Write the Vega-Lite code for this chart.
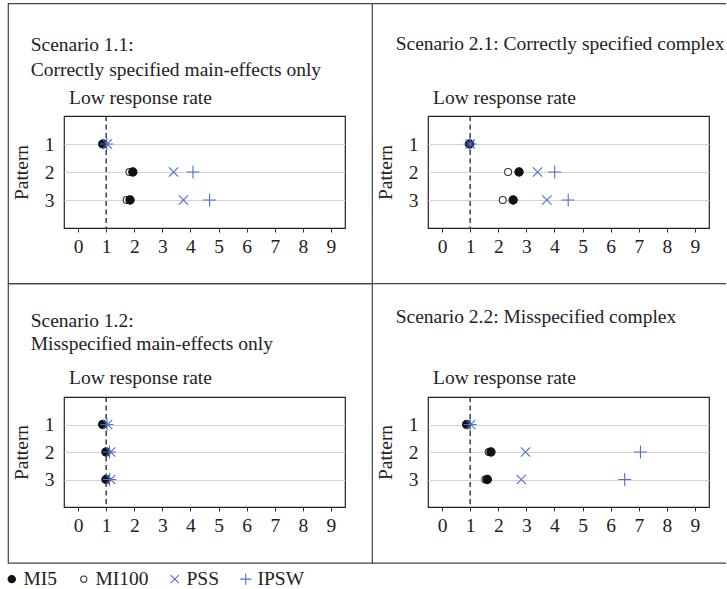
{
  "$schema": "https://vega.github.io/schema/vega-lite/v6.json",
  "autosize": {"type": "pad"},
  "padding": {"left": 2, "top": 2, "right": 0, "bottom": 0},
  "background": "white",
  "config": {
    "font": "Liberation Serif",
    "view": {"stroke": "#222", "strokeWidth": 1.2},
    "axis": {
      "labelFont": "Liberation Serif", "labelFontSize": 19.5, "labelColor": "#222",
      "titleFont": "Liberation Serif", "titleFontSize": 19.5, "titleFontWeight": "normal", "titleColor": "#222",
      "domain": false, "grid": false, "labelFlush": false, "labelOverlap": false
    },
    "legend": {
      "labelFont": "Liberation Serif", "labelFontSize": 19.5, "labelColor": "#222",
      "symbolSize": 130, "symbolStrokeWidth": 1.1, "labelOffset": 2, "columnPadding": 16
    }
  },
  "datasets": {
    "pts": [
      {"panel": "1.1", "pattern": 1, "method": "MI100", "value": 0.86},
      {"panel": "1.1", "pattern": 1, "method": "MI5", "value": 0.89},
      {"panel": "1.1", "pattern": 1, "method": "PSS", "value": 1.04},
      {"panel": "1.1", "pattern": 1, "method": "IPSW", "value": 1.02},
      {"panel": "1.1", "pattern": 2, "method": "MI100", "value": 1.83},
      {"panel": "1.1", "pattern": 2, "method": "MI5", "value": 1.95},
      {"panel": "1.1", "pattern": 2, "method": "PSS", "value": 3.40},
      {"panel": "1.1", "pattern": 2, "method": "IPSW", "value": 4.09},
      {"panel": "1.1", "pattern": 3, "method": "MI100", "value": 1.73},
      {"panel": "1.1", "pattern": 3, "method": "MI5", "value": 1.85},
      {"panel": "1.1", "pattern": 3, "method": "PSS", "value": 3.75},
      {"panel": "1.1", "pattern": 3, "method": "IPSW", "value": 4.68},
      {"panel": "2.1", "pattern": 1, "method": "MI100", "value": 0.97},
      {"panel": "2.1", "pattern": 1, "method": "MI5", "value": 0.98},
      {"panel": "2.1", "pattern": 1, "method": "PSS", "value": 1.0},
      {"panel": "2.1", "pattern": 1, "method": "IPSW", "value": 1.0},
      {"panel": "2.1", "pattern": 2, "method": "MI100", "value": 2.35},
      {"panel": "2.1", "pattern": 2, "method": "MI5", "value": 2.74},
      {"panel": "2.1", "pattern": 2, "method": "PSS", "value": 3.40},
      {"panel": "2.1", "pattern": 2, "method": "IPSW", "value": 4.01},
      {"panel": "2.1", "pattern": 3, "method": "MI100", "value": 2.16},
      {"panel": "2.1", "pattern": 3, "method": "MI5", "value": 2.53},
      {"panel": "2.1", "pattern": 3, "method": "PSS", "value": 3.73},
      {"panel": "2.1", "pattern": 3, "method": "IPSW", "value": 4.49},
      {"panel": "1.2", "pattern": 1, "method": "MI100", "value": 0.87},
      {"panel": "1.2", "pattern": 1, "method": "MI5", "value": 0.88},
      {"panel": "1.2", "pattern": 1, "method": "PSS", "value": 1.05},
      {"panel": "1.2", "pattern": 1, "method": "IPSW", "value": 1.03},
      {"panel": "1.2", "pattern": 2, "method": "MI100", "value": 0.98},
      {"panel": "1.2", "pattern": 2, "method": "MI5", "value": 1.0},
      {"panel": "1.2", "pattern": 2, "method": "PSS", "value": 1.16},
      {"panel": "1.2", "pattern": 2, "method": "IPSW", "value": 1.12},
      {"panel": "1.2", "pattern": 3, "method": "MI100", "value": 0.98},
      {"panel": "1.2", "pattern": 3, "method": "MI5", "value": 1.0},
      {"panel": "1.2", "pattern": 3, "method": "PSS", "value": 1.16},
      {"panel": "1.2", "pattern": 3, "method": "IPSW", "value": 1.12},
      {"panel": "2.2", "pattern": 1, "method": "MI100", "value": 0.86},
      {"panel": "2.2", "pattern": 1, "method": "MI5", "value": 0.88},
      {"panel": "2.2", "pattern": 1, "method": "PSS", "value": 1.02},
      {"panel": "2.2", "pattern": 1, "method": "IPSW", "value": 1.0},
      {"panel": "2.2", "pattern": 2, "method": "MI100", "value": 1.66},
      {"panel": "2.2", "pattern": 2, "method": "MI5", "value": 1.74},
      {"panel": "2.2", "pattern": 2, "method": "PSS", "value": 2.97},
      {"panel": "2.2", "pattern": 2, "method": "IPSW", "value": 7.06},
      {"panel": "2.2", "pattern": 3, "method": "MI100", "value": 1.54},
      {"panel": "2.2", "pattern": 3, "method": "MI5", "value": 1.61},
      {"panel": "2.2", "pattern": 3, "method": "PSS", "value": 2.82},
      {"panel": "2.2", "pattern": 3, "method": "IPSW", "value": 6.50}
    ]
  },
  "columns": 2,
  "spacing": {"row": 169, "column": 83},
  "bounds": "flush",
  "resolve": {"scale": {"shape": "shared", "stroke": "shared", "fill": "shared"}},
  "concat": [
    {
      "width": 281, "height": 112,
      "layer": [
        {"data": {"values": [{}]}, "mark": {"type": "rect", "filled": false, "stroke": "#444", "strokeWidth": 1.2, "clip": false},
         "encoding": {"x": {"datum": -2.482, "axis": null}, "x2": {"datum": 10.472}, "y": {"datum": -4.011, "axis": null}, "y2": {"datum": 5.989}}},
        {"data": {"values": [{}]}, "mark": {"type": "text", "text": ["Scenario 1.1:", "Correctly specified main-effects only"], "align": "left", "baseline": "alphabetic", "font": "Liberation Serif", "fontSize": 19.5, "lineHeight": 24.3, "color": "#222", "clip": false},
         "encoding": {"x": {"datum": -1.685, "axis": null}, "y": {"datum": -2.307, "axis": null}}},
        {"data": {"values": [{}]}, "mark": {"type": "rule", "strokeDash": [5, 3.5], "color": "#222", "strokeWidth": 1.3},
         "encoding": {"x": {"datum": 1, "axis": {"orient": "top", "labels": false, "ticks": false, "domain": false, "grid": false, "title": "Low response rate", "titleAnchor": "start", "titleAlign": "left", "titleX": 4.5, "titleY": -12.3, "titleBaseline": "alphabetic"}}}},
        {"data": {"name": "pts"}, "transform": [{"filter": "datum.panel === '1.1'"}],
         "mark": {"type": "point", "size": 169, "strokeWidth": 1.1, "opacity": 1},
         "encoding": {
           "x": {"field": "value", "type": "quantitative", "scale": {"domain": [-0.5, 9.5], "nice": false, "zero": false},
                 "axis": {"values": [0,1,2,3,4,5,6,7,8,9], "ticks": true, "tickSize": 4, "tickColor": "#333", "labelPadding": 5, "title": null}},
           "y": {"field": "pattern", "type": "quantitative", "scale": {"domain": [0, 4], "reverse": true, "nice": false, "zero": false},
                 "axis": {"values": [1, 2, 3], "format": "d", "ticks": false, "grid": true, "gridColor": "#d2d2d2", "labelPadding": 10, "title": "Pattern", "titlePadding": 13}},
           "shape": {"field": "method", "type": "nominal", "scale": {"domain": ["MI5", "MI100", "PSS", "IPSW"], "range": ["M-0.64,0A0.64,0.64,0,1,0,0.64,0A0.64,0.64,0,1,0,-0.64,0Z", "M-0.54,0A0.54,0.54,0,1,0,0.54,0A0.54,0.54,0,1,0,-0.54,0Z", "M-0.72,-0.72L0.72,0.72M-0.72,0.72L0.72,-0.72", "M-1,0L1,0M0,-1L0,1"]},
                     "legend": {"title": null, "orient": "none", "legendX": -62, "legendY": 453, "direction": "horizontal", "columns": 4}},
           "stroke": {"field": "method", "type": "nominal", "scale": {"domain": ["MI5", "MI100", "PSS", "IPSW"], "range": ["#111", "#333", "#4f6fcf", "#4f6fcf"]},
                      "legend": {"title": null, "orient": "none", "legendX": -62, "legendY": 453, "direction": "horizontal", "columns": 4}},
           "fill": {"field": "method", "type": "nominal", "scale": {"domain": ["MI5", "MI100", "PSS", "IPSW"], "range": ["#111", "#fff", "transparent", "transparent"]},
                    "legend": {"title": null, "orient": "none", "legendX": -62, "legendY": 453, "direction": "horizontal", "columns": 4}}
         }}
      ],
      "resolve": {"axis": {"x": "independent", "y": "independent"}}
    },
    {
      "width": 281, "height": 112,
      "layer": [
        {"data": {"values": [{}]}, "mark": {"type": "rule", "stroke": "#444", "strokeWidth": 1.2, "clip": false},
         "encoding": {"x": {"datum": -2.482, "axis": null}, "x2": {"datum": 10.105}, "y": {"datum": -4.011, "axis": null}}},
        {"data": {"values": [{}]}, "mark": {"type": "rule", "stroke": "#444", "strokeWidth": 1.2, "clip": false},
         "encoding": {"x": {"datum": -2.482, "axis": null}, "x2": {"datum": 10.105}, "y": {"datum": 5.989, "axis": null}}},
        {"data": {"values": [{}]}, "mark": {"type": "text", "text": ["Scenario 2.1: Correctly specified complex"], "align": "left", "baseline": "alphabetic", "font": "Liberation Serif", "fontSize": 19.5, "color": "#222", "clip": false},
         "encoding": {"x": {"datum": -1.649, "axis": null}, "y": {"datum": -2.368, "axis": null}}},
        {"data": {"values": [{}]}, "mark": {"type": "rule", "strokeDash": [5, 3.5], "color": "#222", "strokeWidth": 1.3},
         "encoding": {"x": {"datum": 1, "axis": {"orient": "top", "labels": false, "ticks": false, "domain": false, "grid": false, "title": "Low response rate", "titleAnchor": "start", "titleAlign": "left", "titleX": 4.5, "titleY": -12.3, "titleBaseline": "alphabetic"}}}},
        {"data": {"name": "pts"}, "transform": [{"filter": "datum.panel === '2.1'"}],
         "mark": {"type": "point", "size": 169, "strokeWidth": 1.1, "opacity": 1},
         "encoding": {
           "x": {"field": "value", "type": "quantitative", "scale": {"domain": [-0.5, 9.5], "nice": false, "zero": false},
                 "axis": {"values": [0,1,2,3,4,5,6,7,8,9], "ticks": true, "tickSize": 4, "tickColor": "#333", "labelPadding": 5, "title": null}},
           "y": {"field": "pattern", "type": "quantitative", "scale": {"domain": [0, 4], "reverse": true, "nice": false, "zero": false},
                 "axis": {"values": [1, 2, 3], "format": "d", "ticks": false, "grid": true, "gridColor": "#d2d2d2", "labelPadding": 10, "title": "Pattern", "titlePadding": 13}},
           "shape": {"field": "method", "type": "nominal", "scale": {"domain": ["MI5", "MI100", "PSS", "IPSW"], "range": ["M-0.64,0A0.64,0.64,0,1,0,0.64,0A0.64,0.64,0,1,0,-0.64,0Z", "M-0.54,0A0.54,0.54,0,1,0,0.54,0A0.54,0.54,0,1,0,-0.54,0Z", "M-0.72,-0.72L0.72,0.72M-0.72,0.72L0.72,-0.72", "M-1,0L1,0M0,-1L0,1"]},
                     "legend": {"title": null, "orient": "none", "legendX": -62, "legendY": 453, "direction": "horizontal", "columns": 4}},
           "stroke": {"field": "method", "type": "nominal", "scale": {"domain": ["MI5", "MI100", "PSS", "IPSW"], "range": ["#111", "#333", "#4f6fcf", "#4f6fcf"]},
                      "legend": {"title": null, "orient": "none", "legendX": -62, "legendY": 453, "direction": "horizontal", "columns": 4}},
           "fill": {"field": "method", "type": "nominal", "scale": {"domain": ["MI5", "MI100", "PSS", "IPSW"], "range": ["#111", "#fff", "transparent", "transparent"]},
                    "legend": {"title": null, "orient": "none", "legendX": -62, "legendY": 453, "direction": "horizontal", "columns": 4}}
         }}
      ],
      "resolve": {"axis": {"x": "independent", "y": "independent"}}
    },
    {
      "width": 281, "height": 110,
      "layer": [
        {"data": {"values": [{}]}, "mark": {"type": "rect", "filled": false, "stroke": "#444", "strokeWidth": 1.2, "clip": false},
         "encoding": {"x": {"datum": -2.482, "axis": null}, "x2": {"datum": 10.472}, "y": {"datum": -4.12, "axis": null}, "y2": {"datum": 6.044}}},
        {"data": {"values": [{}]}, "mark": {"type": "text", "text": ["Scenario 1.2:", "Misspecified main-effects only"], "align": "left", "baseline": "alphabetic", "font": "Liberation Serif", "fontSize": 19.5, "lineHeight": 22.7, "color": "#222", "clip": false},
         "encoding": {"x": {"datum": -1.685, "axis": null}, "y": {"datum": -2.545, "axis": null}}},
        {"data": {"values": [{}]}, "mark": {"type": "rule", "strokeDash": [5, 3.5], "color": "#222", "strokeWidth": 1.3},
         "encoding": {"x": {"datum": 1, "axis": {"orient": "top", "labels": false, "ticks": false, "domain": false, "grid": false, "title": "Low response rate", "titleAnchor": "start", "titleAlign": "left", "titleX": 4.5, "titleY": -13.3, "titleBaseline": "alphabetic"}}}},
        {"data": {"name": "pts"}, "transform": [{"filter": "datum.panel === '1.2'"}],
         "mark": {"type": "point", "size": 169, "strokeWidth": 1.1, "opacity": 1},
         "encoding": {
           "x": {"field": "value", "type": "quantitative", "scale": {"domain": [-0.5, 9.5], "nice": false, "zero": false},
                 "axis": {"values": [0,1,2,3,4,5,6,7,8,9], "ticks": true, "tickSize": 4, "tickColor": "#333", "labelPadding": 5, "title": null}},
           "y": {"field": "pattern", "type": "quantitative", "scale": {"domain": [0, 4], "reverse": true, "nice": false, "zero": false},
                 "axis": {"values": [1, 2, 3], "format": "d", "ticks": false, "grid": true, "gridColor": "#d2d2d2", "labelPadding": 10, "title": "Pattern", "titlePadding": 13}},
           "shape": {"field": "method", "type": "nominal", "scale": {"domain": ["MI5", "MI100", "PSS", "IPSW"], "range": ["M-0.64,0A0.64,0.64,0,1,0,0.64,0A0.64,0.64,0,1,0,-0.64,0Z", "M-0.54,0A0.54,0.54,0,1,0,0.54,0A0.54,0.54,0,1,0,-0.54,0Z", "M-0.72,-0.72L0.72,0.72M-0.72,0.72L0.72,-0.72", "M-1,0L1,0M0,-1L0,1"]},
                     "legend": {"title": null, "orient": "none", "legendX": -62, "legendY": 453, "direction": "horizontal", "columns": 4}},
           "stroke": {"field": "method", "type": "nominal", "scale": {"domain": ["MI5", "MI100", "PSS", "IPSW"], "range": ["#111", "#333", "#4f6fcf", "#4f6fcf"]},
                      "legend": {"title": null, "orient": "none", "legendX": -62, "legendY": 453, "direction": "horizontal", "columns": 4}},
           "fill": {"field": "method", "type": "nominal", "scale": {"domain": ["MI5", "MI100", "PSS", "IPSW"], "range": ["#111", "#fff", "transparent", "transparent"]},
                    "legend": {"title": null, "orient": "none", "legendX": -62, "legendY": 453, "direction": "horizontal", "columns": 4}}
         }}
      ],
      "resolve": {"axis": {"x": "independent", "y": "independent"}}
    },
    {
      "width": 281, "height": 110,
      "layer": [
        {"data": {"values": [{}]}, "mark": {"type": "rule", "stroke": "#444", "strokeWidth": 1.2, "clip": false},
         "encoding": {"x": {"datum": -2.482, "axis": null}, "x2": {"datum": 10.105}, "y": {"datum": 6.044, "axis": null}}},
        {"data": {"values": [{}]}, "mark": {"type": "text", "text": ["Scenario 2.2: Misspecified complex"], "align": "left", "baseline": "alphabetic", "font": "Liberation Serif", "fontSize": 19.5, "color": "#222", "clip": false},
         "encoding": {"x": {"datum": -1.649, "axis": null}, "y": {"datum": -2.691, "axis": null}}},
        {"data": {"values": [{}]}, "mark": {"type": "rule", "strokeDash": [5, 3.5], "color": "#222", "strokeWidth": 1.3},
         "encoding": {"x": {"datum": 1, "axis": {"orient": "top", "labels": false, "ticks": false, "domain": false, "grid": false, "title": "Low response rate", "titleAnchor": "start", "titleAlign": "left", "titleX": 4.5, "titleY": -13.3, "titleBaseline": "alphabetic"}}}},
        {"data": {"name": "pts"}, "transform": [{"filter": "datum.panel === '2.2'"}],
         "mark": {"type": "point", "size": 169, "strokeWidth": 1.1, "opacity": 1},
         "encoding": {
           "x": {"field": "value", "type": "quantitative", "scale": {"domain": [-0.5, 9.5], "nice": false, "zero": false},
                 "axis": {"values": [0,1,2,3,4,5,6,7,8,9], "ticks": true, "tickSize": 4, "tickColor": "#333", "labelPadding": 5, "title": null}},
           "y": {"field": "pattern", "type": "quantitative", "scale": {"domain": [0, 4], "reverse": true, "nice": false, "zero": false},
                 "axis": {"values": [1, 2, 3], "format": "d", "ticks": false, "grid": true, "gridColor": "#d2d2d2", "labelPadding": 10, "title": "Pattern", "titlePadding": 13}},
           "shape": {"field": "method", "type": "nominal", "scale": {"domain": ["MI5", "MI100", "PSS", "IPSW"], "range": ["M-0.64,0A0.64,0.64,0,1,0,0.64,0A0.64,0.64,0,1,0,-0.64,0Z", "M-0.54,0A0.54,0.54,0,1,0,0.54,0A0.54,0.54,0,1,0,-0.54,0Z", "M-0.72,-0.72L0.72,0.72M-0.72,0.72L0.72,-0.72", "M-1,0L1,0M0,-1L0,1"]},
                     "legend": {"title": null, "orient": "none", "legendX": -62, "legendY": 453, "direction": "horizontal", "columns": 4}},
           "stroke": {"field": "method", "type": "nominal", "scale": {"domain": ["MI5", "MI100", "PSS", "IPSW"], "range": ["#111", "#333", "#4f6fcf", "#4f6fcf"]},
                      "legend": {"title": null, "orient": "none", "legendX": -62, "legendY": 453, "direction": "horizontal", "columns": 4}},
           "fill": {"field": "method", "type": "nominal", "scale": {"domain": ["MI5", "MI100", "PSS", "IPSW"], "range": ["#111", "#fff", "transparent", "transparent"]},
                    "legend": {"title": null, "orient": "none", "legendX": -62, "legendY": 453, "direction": "horizontal", "columns": 4}}
         }}
      ],
      "resolve": {"axis": {"x": "independent", "y": "independent"}}
    }
  ]
}
